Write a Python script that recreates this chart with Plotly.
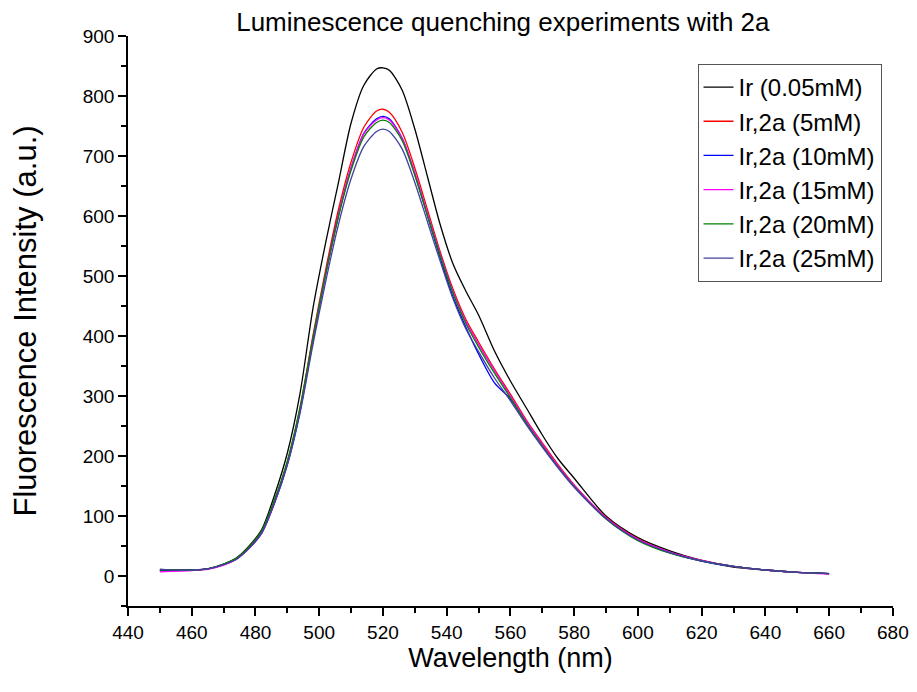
import plotly.graph_objects as go

wavelength = [450, 455, 460, 465, 470, 474, 478, 482, 486, 490, 494, 498, 502, 506, 510,
              514, 518, 520, 522, 526, 530, 534, 538, 542, 546, 550, 555, 560, 565, 570,
              575, 580, 590, 600, 610, 620, 630, 640, 650, 660]

ir_005 = [11, 10, 10, 12, 20, 30, 50, 78, 135, 205, 305, 445, 555, 655, 755,
          818, 845, 847, 843, 810, 745, 665, 585, 520, 475, 435, 375, 325, 280, 235,
          195, 163, 100, 64, 42, 26, 15, 10, 6, 4]
ir_2a_5 = [8, 9, 10, 12, 19, 29, 47, 73, 125, 190, 280, 400, 510, 610, 690,
           748, 775, 778, 773, 740, 680, 610, 540, 478, 428, 390, 345, 303, 260, 222,
           185, 152, 98, 62, 40, 26, 16, 10, 6, 4]
ir_2a_10 = [9, 9, 10, 12, 19, 28, 46, 72, 122, 186, 275, 392, 502, 600, 680,
            738, 762, 766, 762, 730, 670, 600, 530, 465, 415, 370, 322, 295, 255, 218,
            182, 150, 96, 60, 39, 25, 16, 10, 6, 4]
ir_2a_15 = [7, 8, 9, 11, 18, 28, 46, 72, 122, 186, 276, 394, 503, 600, 680,
            737, 760, 764, 760, 730, 672, 604, 536, 474, 424, 386, 342, 300, 258, 220,
            183, 151, 97, 61, 40, 26, 16, 10, 6, 3]
ir_2a_20 = [10, 10, 10, 12, 20, 30, 49, 76, 128, 192, 282, 396, 503, 598, 676,
            732, 756, 760, 756, 726, 668, 600, 533, 471, 421, 382, 338, 297, 255, 217,
            181, 149, 95, 59, 38, 25, 16, 10, 6, 4]
ir_2a_25 = [11, 10, 10, 12, 19, 28, 46, 72, 122, 185, 272, 385, 490, 585, 662,
            716, 741, 745, 741, 712, 656, 590, 524, 462, 412, 374, 330, 292, 252, 215,
            180, 148, 96, 60, 39, 25, 16, 10, 6, 4]

series_names = ["Ir (0.05mM)", "Ir,2a (5mM)", "Ir,2a (10mM)", "Ir,2a (15mM)",
                "Ir,2a (20mM)", "Ir,2a (25mM)"]
series_values = [ir_005, ir_2a_5, ir_2a_10, ir_2a_15, ir_2a_20, ir_2a_25]
colors = ["#000000", "#FF0000", "#0000FF", "#FF00FF", "#008000", "#4040A0"]

FONT = "Arial, Liberation Sans, sans-serif"

fig = go.Figure()
for name, vals, col in zip(series_names, series_values, colors):
    fig.add_trace(go.Scatter(
        x=wavelength, y=vals, mode="lines", name=name,
        line=dict(color=col, width=1.3, shape="spline", smoothing=0.8),
    ))

fig.update_layout(
    width=909, height=684,
    margin=dict(l=120, r=24, t=28, b=86, autoexpand=False),
    paper_bgcolor="white", plot_bgcolor="white",
    font=dict(family=FONT, color="black"),
    title=dict(text="Luminescence quenching experiments with 2a",
               x=0.49, xref="paper", xanchor="center",
               y=1 - 14 / 684, yref="container", yanchor="middle",
               font=dict(size=26, family=FONT, color="black")),
    legend=dict(x=0.985, y=0.951, xanchor="right", yanchor="top",
                bordercolor="#555555", borderwidth=1, bgcolor="white",
                font=dict(size=24, family=FONT, color="black"),
                itemwidth=30, tracegroupgap=0),
    showlegend=True,
)

fig.update_xaxes(
    range=[440, 680.05], dtick=20, tick0=440, automargin=False,
    ticklabeloverflow="allow",
    showline=True, linecolor="black", linewidth=1.5, mirror=False,
    ticks="outside", ticklen=8, tickwidth=1.5, tickcolor="black",
    minor=dict(dtick=10, ticks="outside", ticklen=5, tickwidth=1.5, tickcolor="black"),
    showgrid=False, zeroline=False,
    tickfont=dict(size=19, family=FONT, color="black"),
    title=dict(text="Wavelength (nm)", font=dict(size=27, family=FONT, color="black"),
               standoff=0),
)
fig.update_yaxes(
    range=[-50, 900.05], dtick=100, tick0=0, automargin=False,
    showline=True, linecolor="black", linewidth=1.5, mirror=False,
    ticks="outside", ticklen=8, tickwidth=1.5, tickcolor="black",
    minor=dict(dtick=50, ticks="outside", ticklen=5, tickwidth=1.5, tickcolor="black"),
    showgrid=False, zeroline=False,
    tickfont=dict(size=19, family=FONT, color="black"),
    title=dict(text="Fluorescence Intensity (a.u.)",
               font=dict(size=31, family=FONT, color="black"), standoff=47),
)

fig.write_html("out.html")
